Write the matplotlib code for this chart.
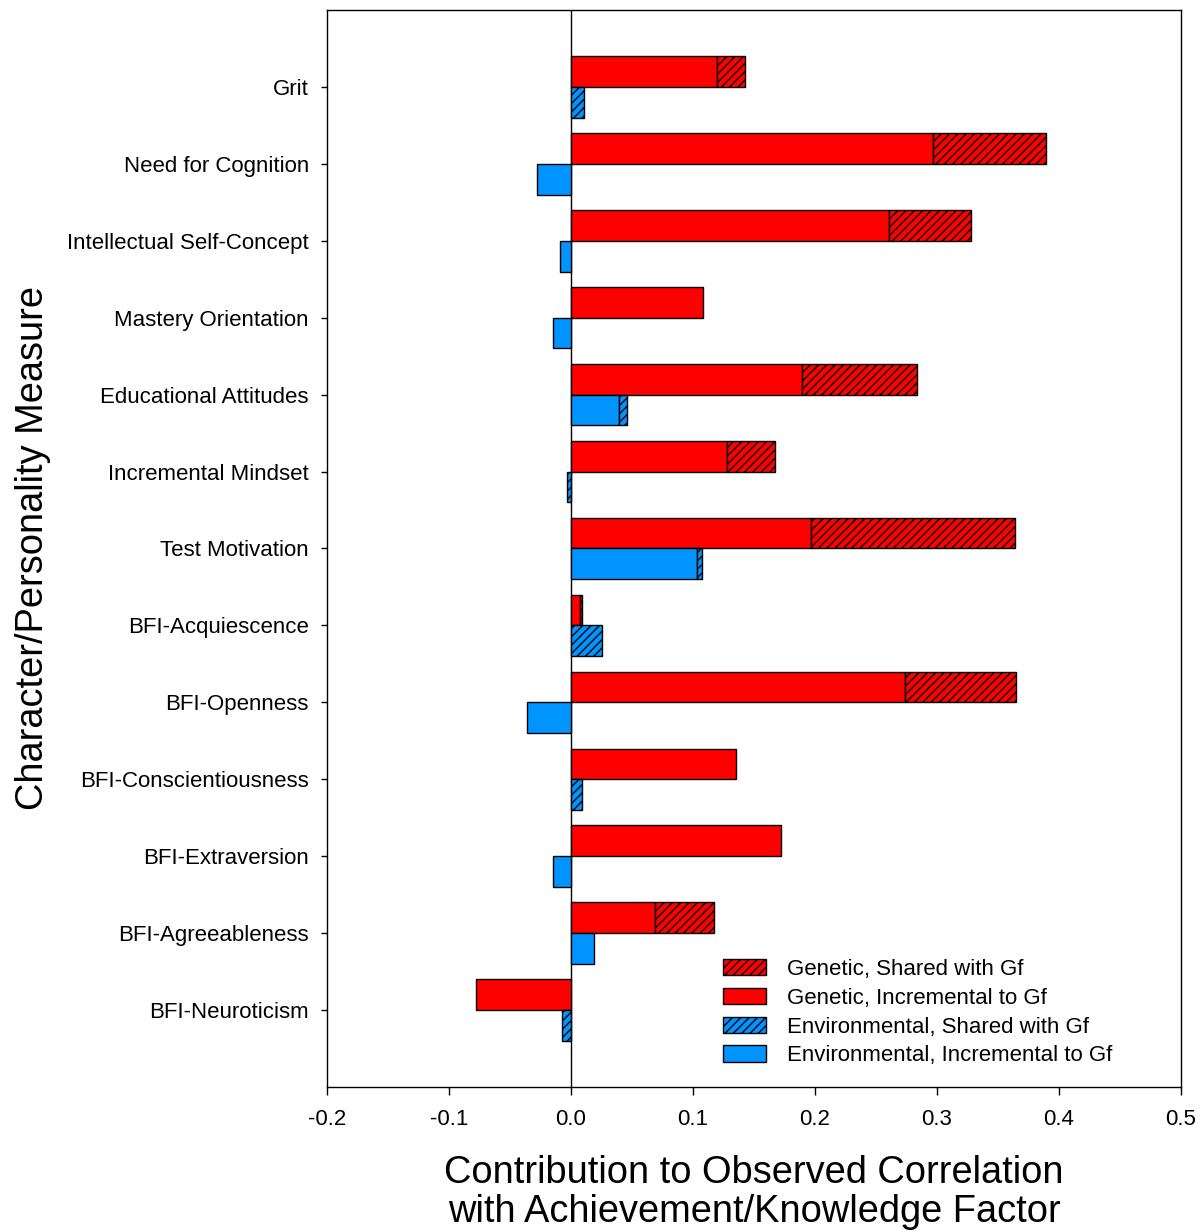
import numpy as np
import matplotlib
matplotlib.use("Agg")
import matplotlib.pyplot as plt
from matplotlib.patches import Patch

plt.rcParams["font.family"] = ["Liberation Sans", "DejaVu Sans"]
plt.rcParams["hatch.linewidth"] = 1.0
plt.rcParams["hatch.color"] = "black"

measures = [
    "Grit", "Need for Cognition", "Intellectual Self-Concept", "Mastery Orientation",
    "Educational Attitudes", "Incremental Mindset", "Test Motivation", "BFI-Acquiescence",
    "BFI-Openness", "BFI-Conscientiousness", "BFI-Extraversion", "BFI-Agreeableness",
    "BFI-Neuroticism",
]
# Genetic part, incremental to Gf and shared with Gf
gen_inc = [0.120, 0.297, 0.261, 0.108, 0.189, 0.128, 0.197, 0.0075, 0.274, 0.135, 0.172, 0.069, -0.078]
gen_shared = [0.023, 0.092, 0.067, 0.0, 0.095, 0.039, 0.167, 0.0012, 0.091, 0.0, 0.0, 0.048, 0.0]
# Environmental part
env_inc = [0.0, -0.028, -0.009, -0.015, 0.039, 0.0, 0.103, 0.0, -0.036, 0.0, -0.0145, 0.019, 0.0]
env_shared = [0.0106, 0.0, 0.0, 0.0, 0.007, -0.0033, 0.0047, 0.025, 0.0, 0.0088, 0.0, 0.0, -0.007]

RED = "#ff0000"
BLUE = "#0094ff"
HATCH = "////"
H = 0.4

fig = plt.figure(figsize=(12.01, 12.32), dpi=100)
ax = fig.add_axes([0.2723, 0.1177, 0.711, 0.8742])

y = np.arange(len(measures))
gi, gs = np.array(gen_inc), np.array(gen_shared)
ei, es = np.array(env_inc), np.array(env_shared)


def draw(pos, inc, shared, color):
    m = inc != 0
    ax.barh(pos[m], inc[m], height=H, color=color, edgecolor="black", linewidth=1, zorder=3)
    m = shared != 0
    ax.barh(pos[m], shared[m], left=inc[m], height=H, color=color, edgecolor="black",
            linewidth=1, hatch=HATCH, zorder=3)


draw(y - H / 2, gi, gs, RED)
draw(y + H / 2, ei, es, BLUE)

ax.axvline(0, color="black", linewidth=1, zorder=2)

ax.set_xlim(-0.2, 0.5)
ax.set_ylim(len(measures), -1)
ax.set_xticks(np.arange(-0.2, 0.51, 0.1))
ax.set_xticklabels([f"{v:.1f}" for v in np.arange(-0.2, 0.51, 0.1)])
ax.set_yticks(y)
ax.set_yticklabels(measures)
ax.tick_params(axis="x", labelsize=16, length=6, width=1, pad=10)
ax.tick_params(axis="y", labelsize=16, length=4, width=1, pad=9)
for s in ax.spines.values():
    s.set_linewidth(1)

ax.set_xlabel("Contribution to Observed Correlation\nwith Achievement/Knowledge Factor",
              fontsize=27.4, labelpad=18, linespacing=1.1)
ax.set_ylabel("Character/Personality Measure", fontsize=27.4, labelpad=12)

handles = [
    Patch(facecolor=RED, edgecolor="black", hatch=HATCH, label="Genetic, Shared with Gf"),
    Patch(facecolor=RED, edgecolor="black", label="Genetic, Incremental to Gf"),
    Patch(facecolor=BLUE, edgecolor="black", hatch=HATCH, label="Environmental, Shared with Gf"),
    Patch(facecolor=BLUE, edgecolor="black", label="Environmental, Incremental to Gf"),
]
ax.legend(handles=handles, loc="upper left", bbox_to_anchor=(0.4637, 0.1188), frameon=False,
          fontsize=16, borderpad=0, borderaxespad=0, handlelength=1.95, handleheight=0.75,
          handletextpad=0.95, labelspacing=0.35)

fig.savefig("out.png", dpi=100)
